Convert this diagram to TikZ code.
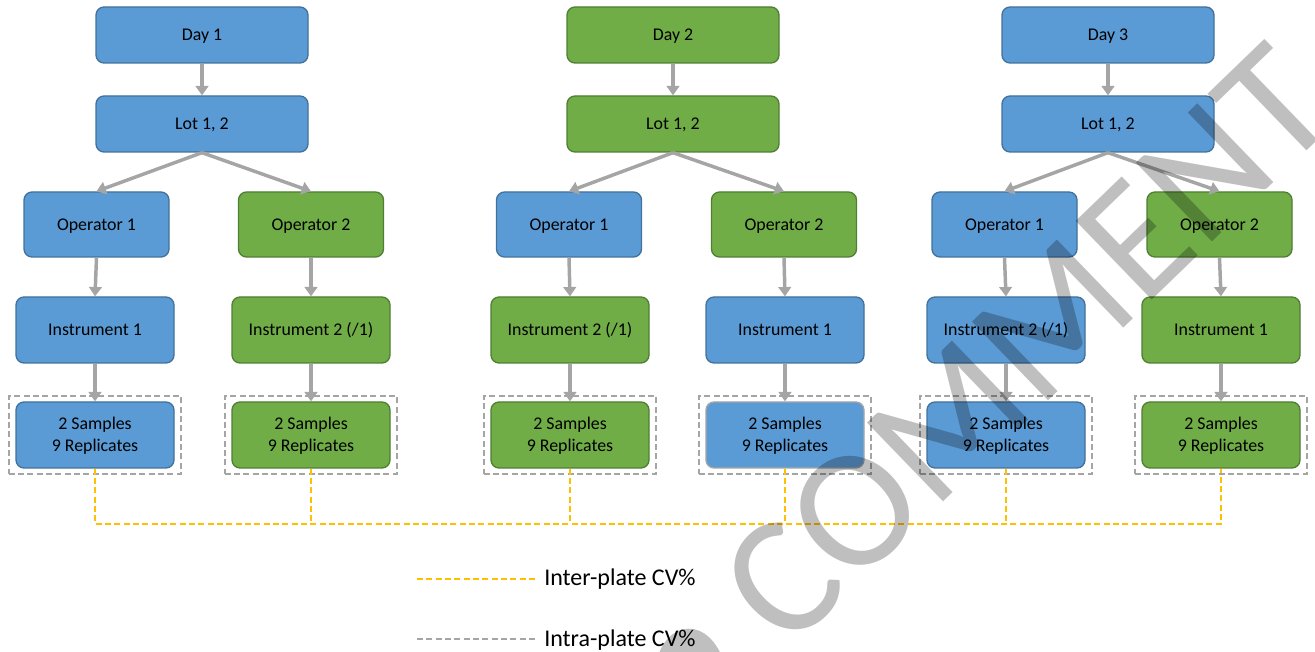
\documentclass[tikz,border=0pt]{standalone}
\usepackage{fontspec}
\setmainfont{Carlito}
\usetikzlibrary{arrows.meta,fit}
\definecolor{boxblue}{HTML}{5B9BD5}
\definecolor{blueedge}{HTML}{41719C}
\definecolor{boxgreen}{HTML}{70AD47}
\definecolor{greenedge}{HTML}{507E32}
\definecolor{linkgray}{HTML}{A5A5A5}
\definecolor{interorange}{HTML}{FFC000}
\definecolor{wmgray}{HTML}{BFBFBF}
\begin{document}
\begin{tikzpicture}[x=0.75pt,y=-0.75pt,
  box/.style={rounded corners=6pt, line width=1pt, align=center,
    font=\fontsize{13.4}{16.3}\selectfont, text height=8.6pt, text depth=0pt, inner sep=0pt},
  bluebox/.style={box, fill=boxblue, draw=blueedge},
  greenbox/.style={box, fill=boxgreen, draw=greenedge},
  daybox/.style={minimum width=159pt, minimum height=42pt},
  opbox/.style={minimum width=108.75pt, minimum height=48.75pt},
  insbox/.style={minimum width=118.5pt, minimum height=49.5pt},
  twoline/.style={text height=24.9pt},
  link/.style={draw=linkgray, line width=2.6pt, -{Triangle[length=7pt,width=9.5pt]}},
  intra/.style={draw=linkgray, line width=1.5pt, dash pattern=on 4.5pt off 2.5pt,
    inner xsep=4.9pt, inner ysep=3.8pt},
  inter/.style={draw=interorange, line width=1.5pt, dash pattern=on 4.5pt off 2.5pt},
  legend/.style={anchor=base west, inner sep=0pt, font=\fontsize{18}{20}\selectfont},
]
\useasboundingbox (0,0) rectangle (1315,652);

% ---------------- Day 1 ----------------
\node[bluebox, daybox] (d1) at (202,35) {Day 1};
\node[bluebox, daybox] (l1) at (202,124) {Lot 1, 2};
\node[bluebox, opbox] (o11) at (96.5,224.5) {Operator 1};
\node[greenbox, opbox] (o12) at (311,224.5) {Operator 2};
\node[bluebox, insbox] (i11) at (95,330) {Instrument 1};
\node[greenbox, insbox] (i12) at (311,330) {Instrument 2 (/1)};
\node[bluebox, insbox, twoline] (s11) at (95,435) {2 Samples\\9 Replicates};
\node[greenbox, insbox, twoline] (s12) at (311,435) {2 Samples\\9 Replicates};

% ---------------- Day 2 ----------------
\node[greenbox, daybox] (d2) at (673,35) {Day 2};
\node[greenbox, daybox] (l2) at (673,124) {Lot 1, 2};
\node[bluebox, opbox] (o21) at (569,224.5) {Operator 1};
\node[greenbox, opbox] (o22) at (784,224.5) {Operator 2};
\node[greenbox, insbox] (i21) at (570,330) {Instrument 2 (/1)};
\node[bluebox, insbox] (i22) at (785,330) {Instrument 1};
\node[greenbox, insbox, twoline] (s21) at (570,435) {2 Samples\\9 Replicates};
\node[bluebox, insbox, twoline, draw=linkgray] (s22) at (785,435) {2 Samples\\9 Replicates};

% ---------------- Day 3 ----------------
\node[bluebox, daybox] (d3) at (1108,35) {Day 3};
\node[bluebox, daybox] (l3) at (1108,124) {Lot 1, 2};
\node[bluebox, opbox] (o31) at (1004.5,224.5) {Operator 1};
\node[greenbox, opbox] (o32) at (1219.5,224.5) {Operator 2};
\node[bluebox, insbox] (i31) at (1006,330) {Instrument 2 (/1)};
\node[greenbox, insbox] (i32) at (1221,330) {Instrument 1};
\node[bluebox, insbox, twoline] (s31) at (1006,435) {2 Samples\\9 Replicates};
\node[greenbox, insbox, twoline] (s32) at (1221,435) {2 Samples\\9 Replicates};

% intra-plate frames round each sample box
\foreach \s in {s11,s12,s21,s22,s31,s32}
  \node[intra, fit=(\s)] (f\s) {};

% hierarchy arrows
\foreach \c in {1,2,3}{
  \draw[link] (d\c.south) -- (l\c.north);
  \draw[link] (l\c.south) -- (o\c1.north);
  \draw[link] (l\c.south) -- (o\c2.north);
  \draw[link] (o\c1.south) -- (i\c1.north);
  \draw[link] (o\c2.south) -- (i\c2.north);
  \draw[link] (i\c1.south) -- (s\c1.north);
  \draw[link] (i\c2.south) -- (s\c2.north);
}

% inter-plate bus
\coordinate (bus) at (0,524);
\draw[inter] (s11.south) -- (s11.south |- bus) -- (s32.south |- bus) -- (s32.south);
\foreach \s in {s12,s21,s22,s31}
  \draw[inter] (\s.south) -- (\s.south |- bus);

% legend
\coordinate (la1) at (417,579);
\coordinate (lb1) at (538,579);
\draw[inter] (la1) -- (lb1);
\node[legend] (lt1) at (544,585) {Inter-plate CV\%};
\coordinate (la2) at (417,639);
\coordinate (lb2) at (538,639);
\draw[intra] (la2) -- (lb2);
\node[legend] (lt2) at (544,646) {Intra-plate CV\%};

% watermark
\begin{scope}[blend mode=multiply]
  \clip (0,0) rectangle (1315,652);
  \node[rotate=44, text=wmgray, inner sep=0pt, font=\fontsize{128}{128}\selectfont] (wm) at (1027,345) {COMMENT};
  \draw[wmgray, line width=18pt] (668,664) .. controls (676,634) and (700,632) .. (712,664);
\end{scope}
\end{tikzpicture}
\end{document}
